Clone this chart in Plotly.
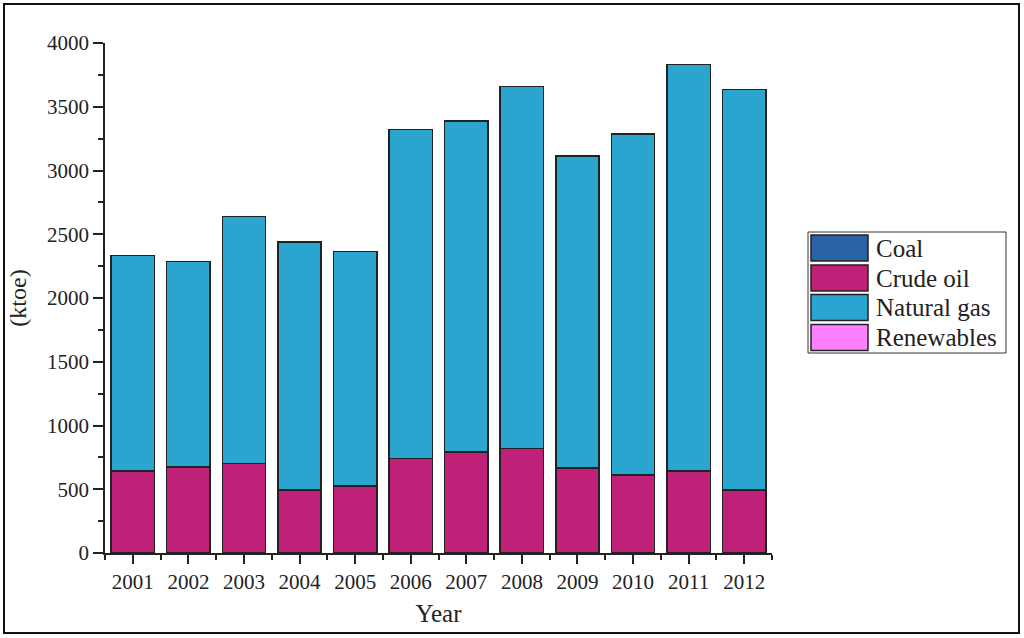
import plotly.graph_objects as go

# values (ktoe)
years = [2001, 2002, 2003, 2004, 2005, 2006, 2007, 2008, 2009, 2010, 2011, 2012]
coal = [0, 0, 0, 0, 0, 0, 0, 0, 0, 0, 0, 0]
crude_oil = [643, 676, 703, 494, 527, 742, 794, 820, 666, 611, 645, 494]
natural_gas = [1692, 1609, 1935, 1944, 1838, 2579, 2593, 2840, 2448, 2674, 3188, 3141]
renewables = [0, 0, 0, 0, 0, 0, 0, 0, 0, 0, 0, 0]

series_names = ['Coal', 'Crude oil', 'Natural gas', 'Renewables']
series_colors = ['#2B62A6', '#BF2178', '#2AA5CF', '#FF80FF']
series_values = [coal, crude_oil, natural_gas, renewables]

FONT = 'Liberation Serif, Times New Roman, serif'
TEXT = '#222222'

# plot area in pixels (1024x638 window)
L, R, T, B = 105, 772, 43, 553
W, H = 1024, 638


def px_x(p):
    return (p - L) / (R - L)


def px_y(p):
    return (B - p) / (B - T)


fig = go.Figure()
for name, color, vals in zip(series_names, series_colors, series_values):
    # series that are zero everywhere get no outline, so no stray edge lines
    lw = 1.5 if any(vals) else 0
    fig.add_trace(go.Bar(x=years, y=vals, name=name, marker_color=color,
                         marker_line=dict(color='#222222', width=lw), showlegend=False))

fig.update_layout(
    barmode='stack', bargap=0.22,
    width=W, height=H,
    margin=dict(l=L, r=W - R, t=T, b=H - B, autoexpand=False),
    paper_bgcolor='white', plot_bgcolor='white',
    font=dict(family=FONT, color=TEXT, size=21),
)

fig.update_xaxes(range=[2000.5, 2012.5], tickmode='array', tickvals=years,
                 ticktext=[str(y) for y in years], ticks='outside', ticklen=9,
                 tickwidth=1.5, tickcolor='#222222', showline=True, linecolor='#222222',
                 linewidth=1.5, showgrid=False, zeroline=False,
                 minor=dict(tick0=2000.5, dtick=1, ticks='outside', ticklen=5,
                            tickwidth=1.5, tickcolor='#222222', showgrid=False),
                 title=dict(text='Year', font=dict(size=25), standoff=12))

fig.update_yaxes(range=[0, 4000], dtick=500, ticks='outside', ticklen=10,
                 tickwidth=1.5, tickcolor='#222222', showline=True, linecolor='#222222',
                 linewidth=1.5, showgrid=False, zeroline=False,
                 minor=dict(dtick=250, ticks='outside', ticklen=5, tickwidth=1.5,
                            tickcolor='#222222', showgrid=False),
                 title=dict(text='(ktoe)', font=dict(size=24), standoff=14))

# outer frame round the whole figure
fig.add_shape(type='rect', xref='paper', yref='paper',
              x0=px_x(4), x1=px_x(1019), y0=px_y(633), y1=px_y(4),
              line=dict(color='#111111', width=2), fillcolor='rgba(0,0,0,0)', layer='above')

# hand-made legend with large swatches
fig.add_shape(type='rect', xref='paper', yref='paper',
              x0=px_x(808), x1=px_x(1006), y0=px_y(353), y1=px_y(232),
              line=dict(color='#333333', width=1), fillcolor='white')
row_tops = [235, 265, 294.5, 324.5]
for name, color, top in zip(series_names, series_colors, row_tops):
    fig.add_shape(type='rect', xref='paper', yref='paper',
                  x0=px_x(811), x1=px_x(868), y0=px_y(top + 26), y1=px_y(top),
                  line=dict(color='#222222', width=1.5), fillcolor=color)
    fig.add_annotation(x=px_x(874), y=px_y(top + 13), xref='paper', yref='paper',
                       text=name, showarrow=False, xanchor='left', yanchor='middle',
                       font=dict(size=25, family=FONT, color=TEXT))

# drop the default body margin so the figure sits at the window's top-left corner
fig.write_html("out.html", config={'displayModeBar': False},
               post_script="document.body.style.margin='0';")
